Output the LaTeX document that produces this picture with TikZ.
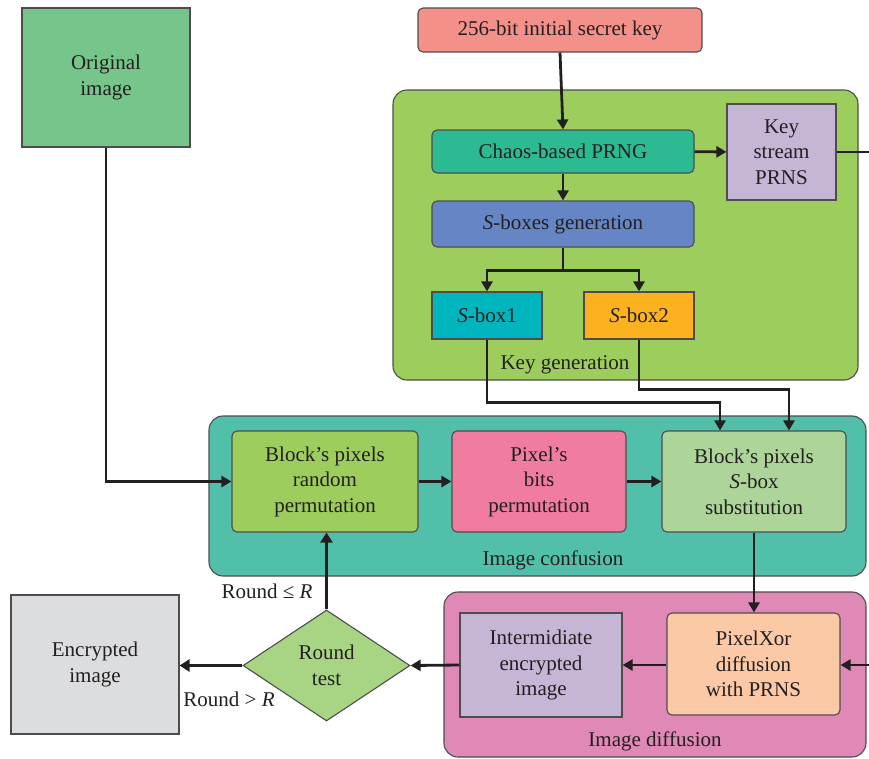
\documentclass[tikz,border=0pt]{standalone}
\usepackage{fontspec}
\setmainfont{Liberation Serif}
\usepackage{tikz}
\usetikzlibrary{arrows.meta,calc,shapes.geometric}

\definecolor{ink}{HTML}{231F20}
\definecolor{origfill}{HTML}{76C68B}
\definecolor{keyfill}{HTML}{F4908A}
\definecolor{kgfill}{HTML}{9DCD5C}
\definecolor{prngfill}{HTML}{2BBA91}
\definecolor{prnsfill}{HTML}{C6B6D6}
\definecolor{sgenfill}{HTML}{6585C5}
\definecolor{sbafill}{HTML}{00B5BD}
\definecolor{sbbfill}{HTML}{FBB21E}
\definecolor{conffill}{HTML}{52BFAA}
\definecolor{bitsfill}{HTML}{F07CA0}
\definecolor{substfill}{HTML}{ADD59A}
\definecolor{difffill}{HTML}{E088B6}
\definecolor{xorfill}{HTML}{FBC9A5}
\definecolor{testfill}{HTML}{A8D583}
\definecolor{encfill}{HTML}{DCDDDF}

\begin{document}
\begin{tikzpicture}[x=1pt, y=-1pt,
    every node/.style={text=ink, font=\fontsize{21}{25.5}\selectfont},
    box/.style={draw=ink!80, line width=1.1pt, align=center, inner sep=0pt},
    rbox/.style={box, rounded corners=5pt},
    group/.style={draw=ink!80, line width=1.1pt, rounded corners=14pt, inner sep=0pt},
    line/.style={draw=ink, line width=2.8pt},
    arr/.style={line, -{Triangle[length=10pt,width=11pt]}},
    bigarr/.style={draw=ink, line width=3.8pt, -{Triangle[length=10pt,width=12pt]}}]
    \useasboundingbox (0,0) rectangle (869,758);

    % groups
    \node[group, fill=kgfill, minimum width=465pt, minimum height=290pt] (kg) at (625.5,235) {};
    \node[group, fill=conffill, minimum width=657pt, minimum height=160pt] (conf) at (537.5,496) {};
    \node[group, fill=difffill, minimum width=422pt, minimum height=165pt] (diff) at (655,674.5) {};
    \node (kglabel) at (565,365) {Key generation};
    \node (conflabel) at (553,560) {Image confusion};
    \node (difflabel) at (655,741) {Image diffusion};

    % key generation
    \node[box, fill=origfill, minimum width=168pt, minimum height=139pt] (orig) at (106,77.5) {Original\\image};
    \node[rbox, fill=keyfill, minimum width=284pt, minimum height=44pt] (key) at (560,30) {256-bit initial secret key};
    \node[rbox, fill=prngfill, minimum width=262pt, minimum height=43pt] (prng) at (563,151.5) {Chaos-based PRNG};
    \node[box, fill=prnsfill, minimum width=109pt, minimum height=96pt] (prns) at (781.5,152) {Key\\stream\\PRNS};
    \node[rbox, fill=sgenfill, minimum width=262pt, minimum height=46pt] (sgen) at (563,224) {\textit{S}-boxes generation};
    \node[box, fill=sbafill, minimum width=110pt, minimum height=47pt] (sba) at (487,315.5) {\textit{S}-box1};
    \node[box, fill=sbbfill, minimum width=110pt, minimum height=47pt] (sbb) at (639,315.5) {\textit{S}-box2};

    % confusion
    \node[rbox, fill=kgfill, minimum width=186pt, minimum height=101pt] (perm) at (325,481.5) {Block's pixels\\random\\permutation};
    \node[rbox, fill=bitsfill, minimum width=174pt, minimum height=101pt] (bits) at (539,481.5) {Pixel's\\bits\\permutation};
    \node[rbox, fill=substfill, minimum width=184pt, minimum height=101pt] (subst) at (754,481.5) {Block's pixels\\\textit{S}-box\\substitution};

    % diffusion and rounds
    \node[box, fill=prnsfill, minimum width=162pt, minimum height=104pt] (inter) at (541,665) {Intermidiate\\encrypted\\image};
    \node[rbox, fill=xorfill, minimum width=173pt, minimum height=102pt] (xor) at (753.5,664) {PixelXor\\diffusion\\with PRNS};
    \node[diamond, aspect=1.5, draw=ink!80, line width=1.1pt, fill=testfill, align=center, inner sep=0pt,
          minimum width=167pt, minimum height=111pt] (test) at (326.5,665.5) {Round\\test};
    \node[box, fill=encfill, minimum width=168pt, minimum height=139pt] (enc) at (95,664.5) {Encrypted\\image};
    \node (le) at (267,591) {Round ≤ \textit{R}};
    \node (gt) at (229,699) {Round > \textit{R}};

    % connectors
    \coordinate (split) at ($(sgen.south)+(0,23)$);
    \coordinate (outR) at (869,152);
    \coordinate (inR) at (869,665);
    \draw[arr] (key.south) -- (prng.north);
    \draw[arr] (prng) -- (sgen);
    \draw[arr] (prng) -- (prns);
    \draw[line] (prns) -- (outR);
    \draw[line] (sgen.south) -- (split);
    \draw[arr] (split) -| (sba.north);
    \draw[arr] (split) -| (sbb.north);
    \draw[arr] (sba.south) -- ++(0,63) -| ([xshift=-34pt]subst.north);
    \draw[arr] (sbb.south) -- ++(0,50) -| ([xshift=35pt]subst.north);
    \draw[arr] (orig.south) |- (perm.west);
    \draw[arr] (perm) -- (bits);
    \draw[arr] (bits) -- (subst);
    \draw[arr] (subst.south) -- (subst.south |- xor.north);
    \draw[arr] (inR) -- (xor.east |- inR);
    \draw[arr] (xor.west |- inter.east) -- (inter.east);
    \draw[arr] (inter.west) -- (test.east);
    \draw[bigarr] (test.north) -- (test.north |- perm.south);
    \draw[bigarr] (test.west) -- (enc.east |- test.west);
\end{tikzpicture}
\end{document}
